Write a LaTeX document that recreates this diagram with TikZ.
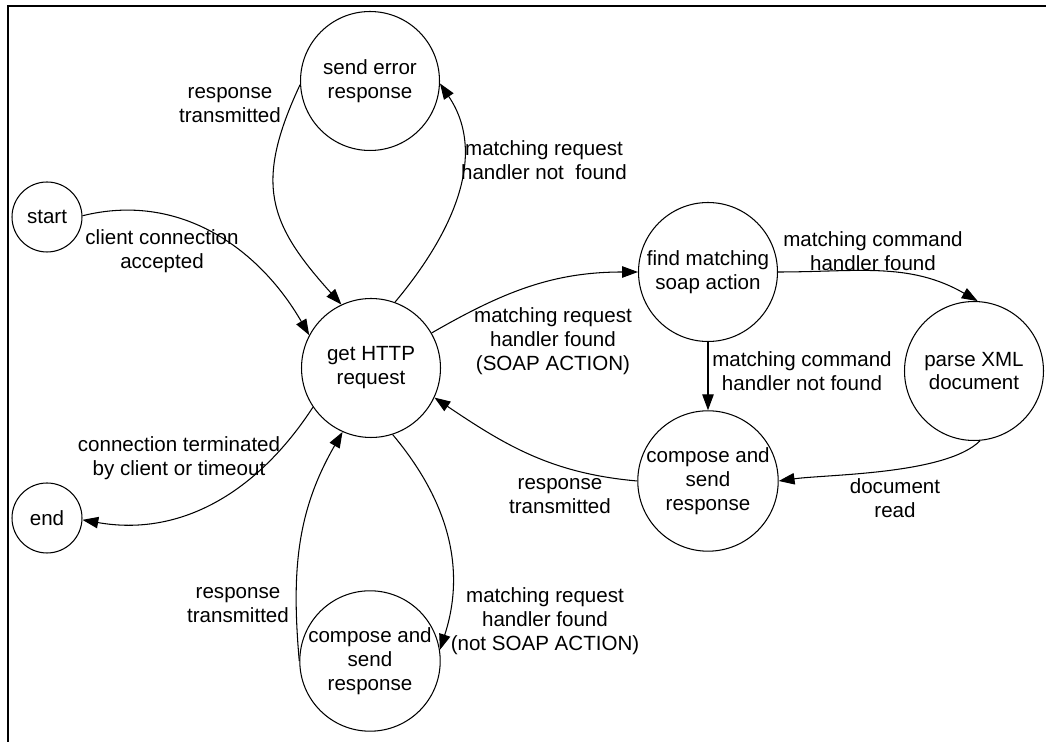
\documentclass[tikz,border=0pt]{standalone}
\usepackage{fontspec}
\setmainfont{Liberation Sans}
\usetikzlibrary{arrows.meta}
\tikzset{
    state/.style={circle,draw,line width=0.6pt,minimum size=2.78cm,inner sep=0pt,align=center},
    smallstate/.style={state,minimum size=1.4cm},
    lbl/.style={align=center,inner sep=0pt},
    arr/.style={-{Triangle[length=9pt,width=6.5pt]},line width=0.6pt}
}
\begin{document}
\begin{tikzpicture}[x=0.02cm,y=-0.02cm,font=\fontsize{11.7}{13.6}\selectfont]
    \useasboundingbox (0,0) rectangle (1046,742);
    \draw[line width=1.5pt] (8,742) -- (8,6) -- (1046,6);
    % states
    \node[smallstate] (start) at (47,217) {start};
    \node[smallstate] (finish) at (47,518) {end};
    \node[state] (senderr) at (370,81) {send error\\response};
    \node[state] (gethttp) at (371,368) {get HTTP\\request};
    \node[state] (findsoap) at (708,272) {find matching\\soap action};
    \node[state] (parsexml) at (974,371) {parse XML\\document};
    \node[state] (composer) at (708,481) {compose and\\send\\response};
    \node[state] (composeb) at (370,661) {compose and\\send\\response};
    % transitions
    \draw[arr] (start.2) to[out=14,in=120] (gethttp.152);
    \draw[arr] (senderr.183) to[out=245,in=132,looseness=1.25] (gethttp.115);
    \draw[arr] (gethttp.70) to[out=50,in=-56] (senderr.-2);
    \draw[arr] (gethttp.30) to[out=30,in=180] (findsoap.180);
    \draw[arr] (findsoap.0) to[out=0,in=150] (parsexml.87);
    \draw[arr] (findsoap.south) -- (composer.north);
    \draw[arr] (parsexml.-85) to[out=-135,in=8,looseness=0.6] (composer.0);
    \draw[arr] (composer.180) to[out=175,in=-34] (gethttp.-25);
    \draw[arr] (gethttp.214) to[out=237,in=-10] (finish.-3);
    \draw[arr] (composeb.180) to[out=95,in=240] (gethttp.246);
    \draw[arr] (gethttp.-72) to[out=-50,in=72] (composeb.9);
    % labels
    \node[lbl] (l1) at (162,251) {client connection\\accepted};
    \node[lbl] (l2) at (230,105) {response\\transmitted};
    \node[lbl] (l3) at (544,160) {matching request\\handler not\ \ found};
    \node[lbl] (l4) at (553,341) {matching request\\handler found\\(SOAP ACTION)};
    \node[lbl] (l5) at (873,251) {matching command\\handler found};
    \node[lbl] (l6) at (802,371) {matching command\\handler not found};
    \node[lbl] (l7) at (895,498) {document\\read};
    \node[lbl] (l8) at (560,496) {response\\transmitted};
    \node[lbl] (l9) at (179,458) {connection terminated\\by client or timeout};
    \node[lbl] (l10) at (238,605) {response\\transmitted};
    \node[lbl] (l11) at (545,621) {matching request\\handler found\\(not SOAP ACTION)};
\end{tikzpicture}
\end{document}
